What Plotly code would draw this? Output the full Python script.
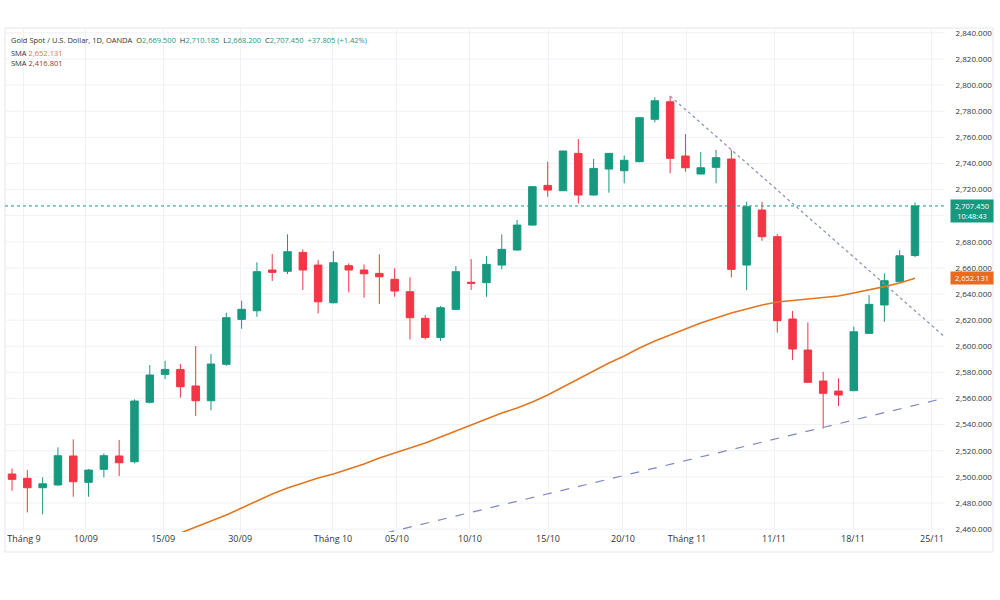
import plotly.graph_objects as go

# ---- data ----
open_ = [2502.2, 2498.9, 2491.7, 2493.8, 2516.0, 2495.8, 2505.8, 2516.0, 2511.6, 2557.1,
         2578.5, 2582.3, 2569.6, 2558.3, 2586.2, 2620.6, 2627.2, 2658.4, 2657.4, 2671.9,
         2662.2, 2633.3, 2661.7, 2658.4, 2655.8, 2651.3, 2641.8, 2621.4, 2606.8, 2628.3,
         2649.0, 2648.7, 2662.2, 2673.7, 2692.8, 2723.2, 2719.1, 2747.7, 2715.8, 2735.7,
         2734.4, 2741.3, 2773.8, 2787.2, 2745.7, 2731.9, 2737.0, 2743.4, 2662.2, 2704.3,
         2683.9, 2620.9, 2597.1, 2573.4, 2565.7, 2566.0, 2609.9, 2631.6, 2649.4, 2669.5]
high = [2506.5, 2505.2, 2499.6, 2522.6, 2528.7, 2506.0, 2518.0, 2528.2, 2559.4, 2585.6,
        2588.9, 2586.4, 2600.2, 2594.1, 2625.7, 2634.9, 2664.3, 2670.6, 2685.7, 2674.2,
        2666.0, 2672.9, 2663.5, 2662.7, 2670.4, 2659.7, 2652.8, 2623.9, 2630.8, 2661.4,
        2666.8, 2669.1, 2685.7, 2696.7, 2722.7, 2741.3, 2749.8, 2758.7, 2743.4, 2748.0,
        2746.2, 2775.3, 2790.6, 2791.6, 2762.5, 2748.7, 2750.3, 2750.3, 2710.7, 2710.7,
        2685.9, 2627.0, 2618.3, 2580.5, 2575.5, 2615.0, 2639.2, 2655.9, 2673.7, 2710.185]
low = [2489.4, 2472.8, 2471.3, 2493.3, 2484.8, 2484.8, 2499.6, 2500.6, 2510.4, 2556.3,
       2574.9, 2560.6, 2546.6, 2551.0, 2585.0, 2613.4, 2622.6, 2650.0, 2655.3, 2643.1,
       2625.2, 2632.9, 2641.3, 2637.2, 2632.3, 2637.9, 2605.3, 2605.3, 2604.2, 2627.7,
       2643.1, 2637.9, 2658.9, 2673.2, 2692.3, 2714.5, 2718.9, 2709.4, 2715.5, 2717.6,
       2724.8, 2741.0, 2771.5, 2732.4, 2733.6, 2731.9, 2724.8, 2652.8, 2643.1, 2680.8,
       2610.4, 2589.5, 2572.0, 2537.0, 2554.2, 2565.7, 2609.7, 2618.8, 2649.0, 2668.2]
close = [2498.1, 2491.7, 2494.7, 2516.2, 2496.3, 2505.2, 2516.2, 2510.8, 2558.1, 2578.0,
         2582.3, 2569.0, 2558.3, 2586.4, 2621.9, 2628.3, 2657.1, 2656.6, 2672.4, 2658.4,
         2634.1, 2664.0, 2658.4, 2655.5, 2653.2, 2642.3, 2621.9, 2606.8, 2629.5, 2657.1,
         2648.2, 2662.7, 2674.2, 2692.8, 2722.2, 2719.6, 2749.5, 2715.8, 2736.2, 2747.7,
         2742.4, 2775.0, 2788.0, 2743.9, 2736.7, 2736.7, 2744.4, 2658.9, 2706.8, 2683.9,
         2619.6, 2597.9, 2572.4, 2564.0, 2562.7, 2611.1, 2632.1, 2650.2, 2669.3, 2707.45]

sma_start = 11
sma_values = [2457.0, 2461.6, 2466.2, 2470.8, 2476.1, 2481.5, 2486.9, 2491.5, 2495.3, 2499.1,
              2502.2, 2506.0, 2509.8, 2514.4, 2518.3, 2522.1, 2525.9, 2530.5, 2535.1, 2539.7,
              2544.3, 2548.9, 2552.7, 2557.3, 2562.7, 2568.8, 2574.9, 2581.0, 2587.2, 2592.5,
              2598.7, 2604.0, 2608.6, 2613.2, 2617.8, 2621.6, 2625.5, 2628.5, 2631.6, 2633.9,
              2635.0, 2636.2, 2637.3, 2638.5, 2640.8, 2643.1, 2645.7, 2648.4, 2652.131]

# trendlines: (index, price) endpoints
resist_x = [43, 60.96]
resist_y = [2791.6, 2607.0]
support_x = [24.4, 60.96]
support_y = [2457.0, 2560.4]

last_price = 2707.45
sma_last = 2652.131

tick_pos = [0.78, 4.83, 9.87, 14.9, 20.97, 25.15, 29.92, 35.02, 39.92, 44.1, 49.79, 54.95, 60.11]
tick_text = ["Tháng 9", "10/09", "15/09", "30/09", "Tháng 10", "05/10", "10/10",
             "15/10", "20/10", "Tháng 11", "11/11", "18/11", "25/11"]

# price levels labelled on the right axis (2,700 is hidden behind the last-price tag)
y_ticks = [2460, 2480, 2500, 2520, 2540, 2560, 2580, 2600, 2620, 2640, 2660, 2680,
           2720, 2740, 2760, 2780, 2800, 2820, 2840]
y_grid = list(range(2460, 2841, 20))

GREEN = "#17997f"
RED = "#f23645"
ORANGE = "#e3761f"
GRID = "#eff1f6"

x = list(range(len(open_)))
x_min, x_max = -0.46, 60.96
y_min, y_max = 2457.8, 2843.7

fig = go.Figure()

fig.add_trace(go.Scatter(x=[x_min, x_max], y=[last_price, last_price], mode="lines",
                         line=dict(color=GREEN, width=1, dash="dot"), hoverinfo="skip",
                         showlegend=False))

fig.add_trace(go.Scatter(x=list(range(sma_start, sma_start + len(sma_values))), y=sma_values,
                         mode="lines", line=dict(color=ORANGE, width=1.6), showlegend=False))

fig.add_trace(go.Scatter(x=resist_x, y=resist_y, mode="lines",
                         line=dict(color="#8e96bd", width=1.3, dash="dot"), showlegend=False))
fig.add_trace(go.Scatter(x=support_x, y=support_y, mode="lines",
                         line=dict(color="#8088c4", width=1.2, dash="dash"), showlegend=False))

fig.add_trace(go.Candlestick(
    x=x, open=open_, high=high, low=low, close=close,
    increasing=dict(line=dict(color=GREEN, width=1), fillcolor=GREEN),
    decreasing=dict(line=dict(color=RED, width=1), fillcolor=RED),
    whiskerwidth=0, showlegend=False))

FONT = "Open Sans, Lato, sans-serif"

annotations = [
    dict(xref="paper", yref="paper", x=0.004, y=0.99, xanchor="left", yanchor="top",
         showarrow=False, align="left", font=dict(size=7.5, color="#333", family=FONT),
         text=("Gold Spot / U.S. Dollar, 1D, OANDA  O<span style='color:%s'>2,669.500</span>"
               "  H<span style='color:%s'>2,710.185</span>  L<span style='color:%s'>2,668.200</span>"
               "  C<span style='color:%s'>2,707.450</span>  <span style='color:%s'>+37.805 (+1.42%%)</span>")
         % (GREEN, GREEN, GREEN, GREEN, GREEN)),
    dict(xref="paper", yref="paper", x=0.004, y=0.965, xanchor="left", yanchor="top",
         showarrow=False, align="left", font=dict(size=7.5, color="#333", family=FONT),
         text="SMA <span style='color:%s'>2,652.131</span>" % ORANGE),
    dict(xref="paper", yref="paper", x=0.004, y=0.945, xanchor="left", yanchor="top",
         showarrow=False, align="left", font=dict(size=7.5, color="#333", family=FONT),
         text="SMA <span style='color:#8e3b2e'>2,416.801</span>"),
    dict(xref="paper", yref="y", x=1.005, y=last_price, xanchor="left", yanchor="middle",
         yshift=-5, showarrow=False, bgcolor=GREEN, width=40, align="center",
         font=dict(size=7.5, color="white", family=FONT), text="2,707.450<br>10:48:43",
         borderpad=1),
    dict(xref="paper", yref="y", x=1.005, y=sma_last, xanchor="left", yanchor="middle",
         showarrow=False, bgcolor="#ec6a1e", width=40, align="center",
         font=dict(size=7.5, color="white", family=FONT), text="2,652.131", borderpad=1),
]

shapes = [
    dict(type="rect", xref="paper", yref="paper", x0=0, x1=1.0511, y0=-0.0397, y1=1.0,
         line=dict(color="#e3e6ec", width=1), layer="below"),
]
# horizontal grid lines, kept below the candles
for gy in y_grid:
    shapes.append(dict(type="line", xref="paper", yref="y", x0=0, x1=1, y0=gy, y1=gy,
                       line=dict(color=GRID, width=1), layer="below"))

fig.update_layout(
    width=1000, height=600,
    margin=dict(l=5, r=55, t=28, b=68),
    paper_bgcolor="white", plot_bgcolor="white",
    font=dict(family=FONT, color="#333"),
    showlegend=False,
    annotations=annotations,
    shapes=shapes,
    xaxis=dict(range=[x_min, x_max], rangeslider=dict(visible=False),
               tickmode="array", tickvals=tick_pos, ticktext=tick_text,
               showgrid=True, gridcolor=GRID, gridwidth=1, zeroline=False,
               showline=False, ticks="", tickfont=dict(size=9, color="#333")),
    yaxis=dict(range=[y_min, y_max], side="right", tickmode="array", tickvals=y_ticks,
               tickformat=",.3f", showgrid=False,
               zeroline=False, showline=False, ticks="outside", ticklen=8, tickcolor="white",
               tickfont=dict(size=8, color="#333")),
)

fig.write_html("out.html")
